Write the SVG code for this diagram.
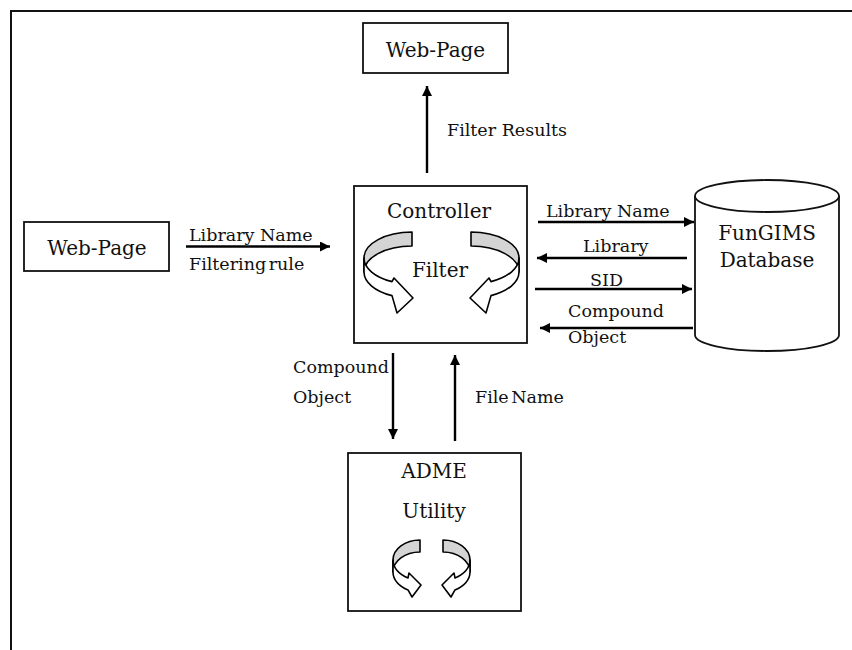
<svg xmlns="http://www.w3.org/2000/svg" width="852" height="650" viewBox="0 0 852 650">
  <style>
    .box { fill: #ffffff; stroke: #111111; stroke-width: 1.8; }
    .frame { fill: none; stroke: #111111; stroke-width: 2; }
    .title { font-family: "DejaVu Serif", "Liberation Serif", serif; font-size: 20px; fill: #111111; }
    .label { font-family: "DejaVu Serif", "Liberation Serif", serif; font-size: 17.5px; fill: #111111; }
    .mid { text-anchor: middle; }
    .conn { stroke: #000000; stroke-width: 2.4; fill: none; marker-end: url(#head); }
    .back { fill: #d4d4d4; stroke: #000000; stroke-width: 1.6; stroke-linejoin: round; }
    .front { fill: #ffffff; stroke: #000000; stroke-width: 1.6; stroke-linejoin: round; }
  </style>
  <defs>
    <marker id="head" viewBox="0 0 10 10" refX="10" refY="5" markerWidth="11" markerHeight="10" markerUnits="userSpaceOnUse" orient="auto">
      <path d="M0,0 L10,5 L0,10 Z" fill="#000000"/>
    </marker>
  </defs>

  <rect width="852" height="650" fill="#ffffff"/>

  <!-- page frame -->
  <path class="frame" d="M11,650 L11,11 L852,11"/>

  <!-- output web page -->
  <g id="webpage-top">
    <rect class="box" x="363" y="23" width="145" height="50"/>
    <text class="title mid" x="435.5" y="57">Web-Page</text>
  </g>

  <!-- input web page -->
  <g id="webpage-left">
    <rect class="box" x="24" y="222" width="145" height="49"/>
    <text class="title mid" x="97" y="255">Web-Page</text>
  </g>

  <!-- controller with filter loop -->
  <g id="controller">
    <rect class="box" x="354" y="186" width="173" height="157"/>
    <text class="title mid" x="439" y="218">Controller</text>
    <g id="loop-left">
      <path class="back" d="M412,232 A48,26 0 0 0 364,258 L364,272 A48,26 0 0 1 412,246 Z"/>
      <path class="front" d="M364,258 A48,26 0 0 0 392,281.6 L394,278 L413,298 L397,313 L392,295.6 A48,26 0 0 1 364,272 Z"/>
    </g>
    <g id="loop-right" transform="translate(883,0) scale(-1,1)">
      <path class="back" d="M412,232 A48,26 0 0 0 364,258 L364,272 A48,26 0 0 1 412,246 Z"/>
      <path class="front" d="M364,258 A48,26 0 0 0 392,281.6 L394,278 L413,298 L397,313 L392,295.6 A48,26 0 0 1 364,272 Z"/>
    </g>
    <text class="title mid" x="440" y="277">Filter</text>
  </g>

  <!-- database -->
  <g id="database">
    <path class="box" d="M695,196 L695,335 A72,16 0 0 0 839,335 L839,196"/>
    <ellipse class="box" cx="767" cy="196" rx="72" ry="16"/>
    <text class="title mid" x="767" y="240">FunGIMS</text>
    <text class="title mid" x="767" y="267">Database</text>
  </g>

  <!-- ADME utility -->
  <g id="adme">
    <rect class="box" x="348" y="453" width="173" height="158"/>
    <text class="title mid" x="434" y="478">ADME</text>
    <text class="title mid" x="434" y="518">Utility</text>
    <g id="adme-loop-left">
      <path class="back" d="M420,540 A27,20 0 0 0 393,560 L393,572 A27,20 0 0 1 420,552 Z"/>
      <path class="front" d="M393,560 A27,20 0 0 0 408,577.9 L409,573 L421,585 L412,597 L408,589.9 A27,20 0 0 1 393,572 Z"/>
    </g>
    <g id="adme-loop-right" transform="translate(863,0) scale(-1,1)">
      <path class="back" d="M420,540 A27,20 0 0 0 393,560 L393,572 A27,20 0 0 1 420,552 Z"/>
      <path class="front" d="M393,560 A27,20 0 0 0 408,577.9 L409,573 L421,585 L412,597 L408,589.9 A27,20 0 0 1 393,572 Z"/>
    </g>
  </g>

  <!-- connectors -->
  <g id="connectors">
    <line class="conn" x1="427" y1="173" x2="427" y2="86"/>
    <line class="conn" x1="186" y1="246.5" x2="330" y2="246.5"/>
    <line class="conn" x1="538" y1="222" x2="694" y2="222"/>
    <line class="conn" x1="687" y1="258" x2="537" y2="258"/>
    <line class="conn" x1="535" y1="289" x2="692" y2="289"/>
    <line class="conn" x1="693" y1="328" x2="540" y2="328"/>
    <line class="conn" x1="393" y1="353" x2="393" y2="439"/>
    <line class="conn" x1="455" y1="441" x2="455" y2="355"/>
  </g>

  <!-- connector labels -->
  <g id="labels">
    <text class="label" x="447" y="136">Filter Results</text>
    <text class="label" x="189" y="241">Library Name</text>
    <text class="label" x="189" y="270" word-spacing="-3">Filtering rule</text>
    <text class="label" x="546" y="217">Library Name</text>
    <text class="label" x="583" y="252">Library</text>
    <text class="label" x="590" y="286">SID</text>
    <text class="label" x="568" y="317">Compound</text>
    <text class="label" x="568" y="343">Object</text>
    <text class="label" x="293" y="373">Compound</text>
    <text class="label" x="293" y="403">Object</text>
    <text class="label" x="475" y="403" word-spacing="-3">File Name</text>
  </g>
</svg>
